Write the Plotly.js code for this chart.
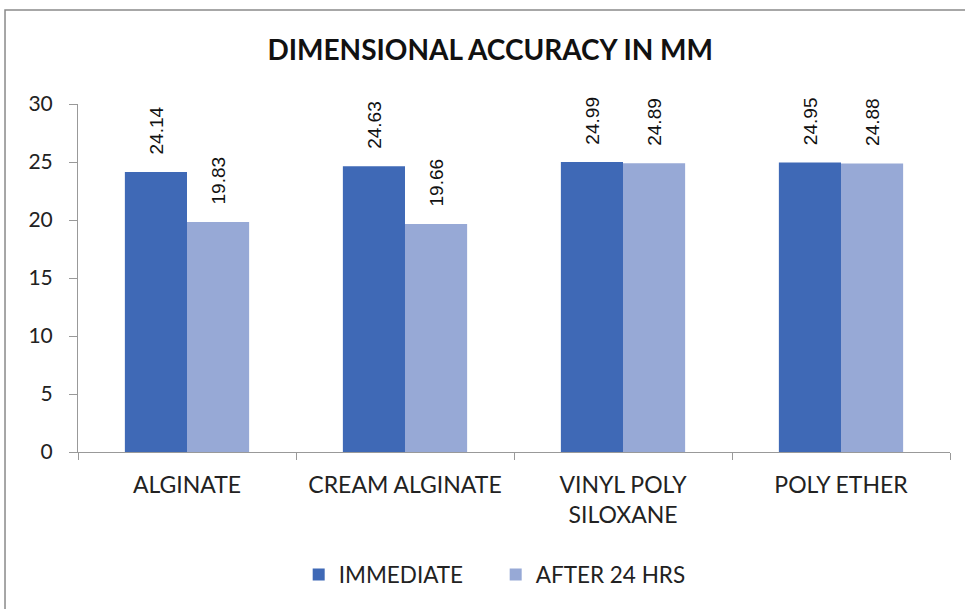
<!DOCTYPE html>
<html>
<head>
<meta charset="utf-8">
<script src="https://cdn.plot.ly/plotly-3.0.1.min.js"></script>
<style>html,body{margin:0;padding:0;background:#fff;} #chart{width:965px;height:609px;}</style>
</head>
<body>
<div id="chart"></div>
<script>
const categories = ["ALGINATE", "CREAM ALGINATE", "VINYL POLY<br>SILOXANE", "POLY ETHER"];
const immediate = [24.14, 24.63, 24.99, 24.95];
const after24 = [19.83, 19.66, 24.89, 24.88];
const seriesNames = ["IMMEDIATE", "AFTER 24 HRS"];

const fontFam = "Lato, 'Open Sans', sans-serif";
const labelFont = {family: "'Liberation Sans', Arial, sans-serif", size: 20, color: "#111"};
const pad = "\u00a0\u00a0\u2009";
const traces = [
  {type: "bar", name: seriesNames[0], x: categories, y: immediate,
   marker: {color: "#3F69B6", line: {width: 0}},
   text: immediate.map(v => pad + v.toFixed(2)), textposition: "outside", textangle: -90,
   textfont: labelFont, cliponaxis: false},
  {type: "bar", name: seriesNames[1], x: categories, y: after24,
   marker: {color: "#97A9D6", line: {width: 0}},
   text: after24.map(v => pad + v.toFixed(2)), textposition: "outside", textangle: -90,
   textfont: labelFont, cliponaxis: false}
];
const layout = {
  width: 965, height: 609,
  margin: {l: 78, r: 15, t: 104, b: 157},
  paper_bgcolor: "#fff", plot_bgcolor: "#fff",
  title: {text: "<b>DIMENSIONAL ACCURACY IN MM</b>", x: 0.508, xanchor: "center", y: 0.918, yanchor: "middle",
          font: {family: fontFam, size: 28, color: "#111"}},
  barmode: "group", bargap: 0.43, bargroupgap: 0,
  showlegend: true,
  legend: {orientation: "h", x: 0.479, xanchor: "center", y: -0.353, yanchor: "middle",
           font: {family: fontFam, size: 22.5, color: "#222"}, itemwidth: 30, traceorder: "normal",
           entrywidth: 152, entrywidthmode: "pixels"},
  xaxis: {showline: true, linecolor: "#999", linewidth: 1, ticks: "outside", tickson: "boundaries",
          ticklen: 7, tickcolor: "#999", tickfont: {family: fontFam, size: 23, color: "#222"},
          ticklabelstandoff: 12, showgrid: false, zeroline: false},
  yaxis: {range: [0, 30], dtick: 5, tick0: 0, showline: true, linecolor: "#999", linewidth: 1,
          ticks: "outside", ticklen: 8, tickcolor: "#999", showgrid: false, zeroline: false,
          ticklabelstandoff: 12, tickfont: {family: fontFam, size: 21, color: "#222"}},
  shapes: [{type: "rect", xref: "paper", yref: "paper", x0: -0.0837, x1: 1.03, y0: -0.46, y1: 1.27,
            line: {color: "#8a8a8a", width: 1.5}, fillcolor: "rgba(0,0,0,0)", layer: "below"}]
};
Plotly.newPlot("chart", traces, layout, {displayModeBar: false, staticPlot: true});
</script>
</body>
</html>
